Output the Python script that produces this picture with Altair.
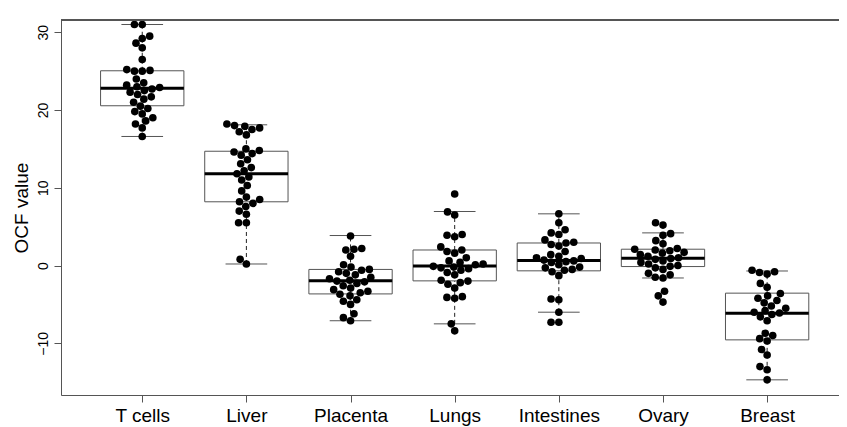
import math
import altair as alt
import pandas as pd

# ---------------- data ----------------
categories = ["T cells", "Liver", "Placenta", "Lungs", "Intestines", "Ovary", "Breast"]

tcells = [31.0, 31.0, 29.5, 29.2, 28.6, 28.0, 26.5, 25.2, 25.0, 25.0, 25.1, 24.0, 23.5,
          23.2, 23.0, 22.9, 22.7, 22.5, 22.3, 22.0, 21.7, 21.4, 21.0, 20.5, 20.2, 19.8,
          19.5, 19.0, 18.6, 18.2, 17.7, 16.6]
liver = [18.2, 18.0, 17.9, 17.7, 17.5, 17.2, 16.8, 15.0, 14.8, 14.6, 14.4, 14.2, 13.6,
         13.1, 12.6, 12.2, 11.8, 11.4, 11.0, 10.3, 9.6, 8.8, 8.5, 8.2, 8.0, 7.6, 7.0,
         6.6, 5.5, 5.5, 0.8, 0.2]
placenta = [3.8, 2.2, 2.1, 2.0, 1.2, 0.1, -0.2, -0.5, -0.6, -0.8, -1.0, -1.2, -1.5,
            -1.7, -1.9, -2.0, -2.1, -2.3, -2.6, -2.9, -3.1, -3.3, -3.5, -3.7, -3.9,
            -4.4, -4.6, -5.0, -6.2, -6.7, -7.1]
lungs = [9.2, 6.9, 6.5, 4.0, 3.9, 3.7, 2.4, 2.0, 1.8, 1.6, 1.0, 0.6, 0.4, 0.2, 0.1,
         -0.1, -0.2, -0.3, -0.4, -0.6, -0.9, -1.2, -1.9, -2.0, -2.2, -2.4, -2.9, -4.0,
         -4.1, -4.2, -7.5, -8.4]
intestines = [6.65, 5.5, 4.6, 4.2, 4.0, 3.3, 3.0, 2.9, 2.7, 2.5, 1.8, 1.4, 1.2, 1.0,
              0.9, 0.7, 0.6, 0.5, 0.4, 0.1, -0.2, -0.3, -0.5, -0.6, -0.8, -1.3, -4.3,
              -4.4, -6.0, -7.3, -7.3]
ovary = [5.5, 5.2, 4.1, 3.9, 3.2, 2.8, 2.2, 2.1, 2.0, 1.9, 1.7, 1.6, 1.4, 1.2, 1.0, 0.9,
         0.8, 0.6, 0.4, 0.2, 0.0, -0.1, -0.3, -0.5, -1.0, -1.2, -1.5, -1.6, -3.3, -3.9,
         -4.7]
breast = [-0.6, -0.8, -0.9, -1.1, -2.3, -2.8, -3.6, -3.9, -4.2, -4.5, -4.8, -5.2, -5.5,
          -5.8, -6.0, -6.1, -6.3, -6.6, -7.1, -8.7, -9.0, -9.4, -9.7, -10.8, -11.5,
          -13.0, -13.4, -14.7]

series = [tcells, liver, placenta, lungs, intestines, ovary, breast]

# box statistics
q1 = [20.55, 8.2, -3.65, -1.97, -0.68, -0.13, -9.56]
med = [22.8, 11.8, -1.97, -0.05, 0.64, 0.95, -6.13]
q3 = [25.05, 14.7, -0.5, 2.0, 2.9, 2.1, -3.55]
lo = [16.6, 0.2, -7.1, -7.5, -6.0, -1.6, -14.7]
hi = [31.0, 18.1, 3.86, 6.95, 6.65, 4.2, -0.7]

# ---------------- layout ----------------
W, H = 778, 375
XDOM = [0.22, 7.69]
YDOM = [-16.65, 31.58]
px_x = W / (XDOM[1] - XDOM[0])
px_y = H / (YDOM[1] - YDOM[0])
FRAME = "#555555"
FONT = "Liberation Sans"


def swarm(vals, d=7.8):
    """Simple beeswarm: offsets (in x data units) so that dots do not overlap."""
    order = sorted(range(len(vals)), key=lambda i: vals[i])
    placed = []
    out = [0.0] * len(vals)
    for i in order:
        y = vals[i] * px_y
        cands = [0.0]
        for (px, py) in placed:
            dy = abs(py - y)
            if dy < d:
                dx = math.sqrt(d * d - dy * dy)
                cands += [px + dx, px - dx]
        cands.sort(key=lambda c: (abs(c), c))
        chosen = 0.0
        for c in cands:
            if all((c - px) ** 2 + (y - py) ** 2 >= d * d - 1e-6 for px, py in placed):
                chosen = c
                break
        placed.append((chosen, y))
        out[i] = chosen / px_x
    return out


rows = []
for k, vals in enumerate(series):
    offs = swarm(vals)
    for v, o in zip(vals, offs):
        rows.append({"group": categories[k], "pos": k + 1, "xj": k + 1 + o, "value": v})
points = pd.DataFrame(rows)

stats = pd.DataFrame({
    "group": categories,
    "pos": list(range(1, len(categories) + 1)),
    "q1": q1, "med": med, "q3": q3, "lo": lo, "hi": hi,
})
stats["box_l"] = stats["pos"] - 0.4
stats["box_r"] = stats["pos"] + 0.4
stats["cap_l"] = stats["pos"] - 0.2
stats["cap_r"] = stats["pos"] + 0.2

xscale = alt.Scale(domain=XDOM, nice=False, zero=False)
yscale = alt.Scale(domain=YDOM, nice=False, zero=False)

label_js = "[" + ",".join("'" + c + "'" for c in [""] + categories) + "][datum.value]"

xaxis = alt.Axis(values=list(range(1, len(categories) + 1)), labelExpr=label_js,
                 grid=False, tickSize=7, labelFontSize=19, labelPadding=4,
                 labelFont=FONT, labelColor="black", domainColor=FRAME,
                 tickColor=FRAME, labelAngle=0, labelFlush=False)
yaxis = alt.Axis(values=[-10, 0, 10, 20, 30], grid=False, tickSize=7,
                 labelFontSize=14, labelAngle=270, labelAlign="center",
                 labelBaseline="bottom", labelPadding=4, labelFont=FONT,
                 labelColor="black", domainColor=FRAME, tickColor=FRAME,
                 titleFont=FONT, titleFontSize=19, titleFontWeight="normal",
                 titleColor="black", titlePadding=5)


def X(field):
    return alt.X(field, type="quantitative", scale=xscale, axis=xaxis, title=None)


def Y(field):
    return alt.Y(field, type="quantitative", scale=yscale, axis=yaxis, title="OCF value")


base_s = alt.Chart(stats)

whisk_lo = base_s.mark_rule(color="#222222", strokeDash=[4, 3], strokeWidth=1).encode(
    x=X("pos"), y=Y("lo"), y2="q1")
whisk_hi = base_s.mark_rule(color="#222222", strokeDash=[4, 3], strokeWidth=1).encode(
    x=X("pos"), y=Y("q3"), y2="hi")
cap_lo = base_s.mark_rule(color=FRAME, strokeWidth=1).encode(
    x=X("cap_l"), x2="cap_r", y=Y("lo"))
cap_hi = base_s.mark_rule(color=FRAME, strokeWidth=1).encode(
    x=X("cap_l"), x2="cap_r", y=Y("hi"))
box = base_s.mark_rect(fill="white", stroke=FRAME, strokeWidth=1).encode(
    x=X("box_l"), x2="box_r", y=Y("q1"), y2="q3")
median = base_s.mark_rule(color="black", strokeWidth=3).encode(
    x=X("box_l"), x2="box_r", y=Y("med"))

dots = alt.Chart(points).mark_circle(size=58, color="black", opacity=1).encode(
    x=X("xj"), y=Y("value"))

top_frame = alt.Chart(stats).mark_rule(color=FRAME, strokeWidth=1).encode(
    x=alt.value(0), x2=alt.value(W), y=alt.value(0))

chart = alt.layer(whisk_lo, whisk_hi, cap_lo, cap_hi, box, median, dots, top_frame).properties(
    width=W, height=H,
    autosize=alt.AutoSizeParams(type="none"),
    padding={"left": 53, "top": 12, "right": 0, "bottom": 32},
).configure_view(stroke=None).configure(background="white")

chart.save("out.html", embed_options={"renderer": "svg", "actions": False})
